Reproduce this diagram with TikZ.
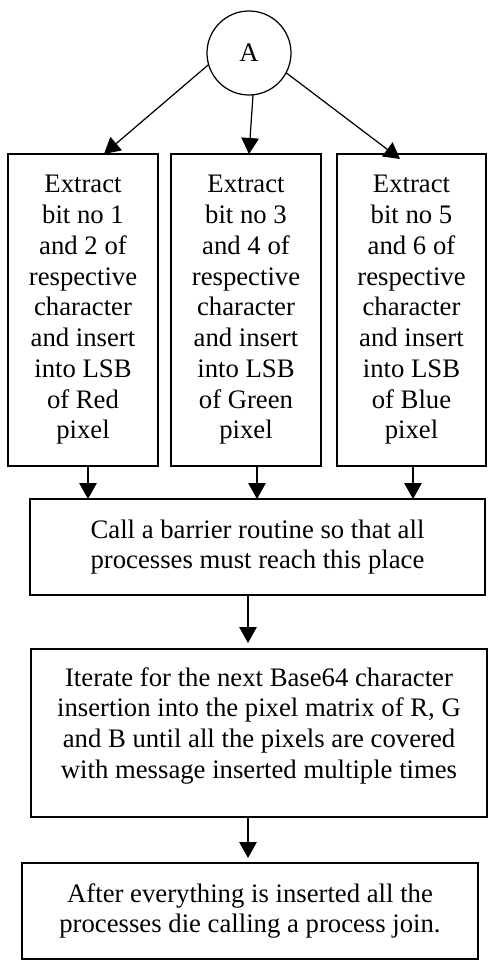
\documentclass[tikz,border=0pt]{standalone}
\usepackage{fontspec}
\setmainfont{Liberation Serif}
\newcommand*{\boxfont}{\fontsize{15.2}{17.5}\selectfont}
\usepackage{tikz}
\usetikzlibrary{arrows.meta}
\usetikzlibrary{positioning}
\tikzstyle{base}=[inner sep=0pt, outer sep=0pt, line width=0.7pt]
\tikzstyle{stepbox}=[draw, rectangle, align=center]
\tikzstyle{bitbox}=[stepbox, minimum width=3cm, minimum height=6.24cm]
\tikzstyle{widebox}=[stepbox, minimum width=9.12cm, minimum height=1.92cm]
\tikzstyle{arr}=[-{Triangle[length=0.32cm,width=0.35cm]}]

\begin{document}
\begin{tikzpicture}[base]
    \boxfont
        \node [draw, circle, minimum size=1.68cm] (a) at (4.98,-1.06) {A};
        \node [bitbox] (red) at (1.66,-6.2) {Extract\\bit no 1\\and 2 of\\respective\\character\\and insert\\into LSB\\of Red\\pixel};
        \node [bitbox] (green) at (4.92,-6.2) {Extract\\bit no 3\\and 4 of\\respective\\character\\and insert\\into LSB\\of Green\\pixel};
        \node [bitbox, minimum width=2.98cm] (blue) at (8.23,-6.2) {Extract\\bit no 5\\and 6 of\\respective\\character\\and insert\\into LSB\\of Blue\\pixel};
        \node [widebox, minimum width=9.1cm] (barrier) at (5.15,-10.94) {Call a barrier routine so that all\\processes must reach this place};
        \node [widebox, minimum height=3.36cm] (iterate) at (5.18,-14.66) {Iterate for the next Base64 character\\insertion into the pixel matrix of R, G\\and B until all the pixels are covered\\with message inserted multiple times\\[-6pt]\mbox{}};
        \node [widebox] (join) at (5.0,-18.22) {After everything is inserted all the\\processes die calling a process join.};
        % from A to the three bit boxes
        \draw [arr] (a.196) -- ([xshift=0.42cm]red.north);
        \draw [arr] ([xshift=0.08cm]a.south) -- ([xshift=0.06cm]green.north);
        \draw [arr] (a.-28) -- ([xshift=-0.23cm, yshift=-0.1cm]blue.north);
        % into the barrier
        \draw [arr] ([xshift=0.1cm]red.south) -- ([xshift=0.1cm]red.south |- barrier.north);
        \draw [arr] ([xshift=0.22cm]green.south) -- ([xshift=0.22cm]green.south |- barrier.north);
        \draw [arr] ([xshift=0.03cm]blue.south) -- ([xshift=0.03cm]blue.south |- barrier.north);
        \draw [arr, shorten >=0.12cm] ([xshift=-0.19cm]barrier.south) -- ([xshift=-0.19cm]barrier.south |- iterate.north);
        \draw [arr, shorten >=0.1cm] ([xshift=-0.22cm]iterate.south) -- ([xshift=-0.22cm]iterate.south |- join.north);
        \path [use as bounding box] (0,0) rectangle (9.76,-19.2);
    \end{tikzpicture}
\end{document}
